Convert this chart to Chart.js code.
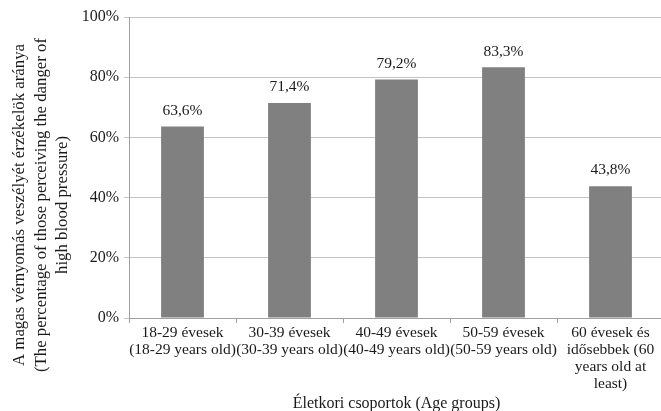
<!DOCTYPE html>
<html>
<head>
<meta charset="utf-8">
<script src="https://cdn.jsdelivr.net/npm/chart.js@4.4.0/dist/chart.umd.min.js"></script>
<style>
  html, body { margin: 0; padding: 0; background: #fff; overflow: hidden; }
  #wrap { width: 666px; height: 411px; }
</style>
</head>
<body>
<div id="wrap"><canvas id="ageChart"></canvas></div>
<script>
// age groups (two-language labels, one line per array entry)
const ageGroups = [
    ["18-29 évesek", "(18-29 years old)"],
    ["30-39 évesek", "(30-39 years old)"],
    ["40-49 évesek", "(40-49 years old)"],
    ["50-59 évesek", "(50-59 years old)"],
    ["60 évesek és", "idősebbek (60", "years old at", "least)"]
];
const percentages = [63.6, 71.4, 79.2, 83.3, 43.8];
const yTicks = [0, 20, 40, 60, 80, 100];

const yTitle = [
    "A magas vérnyomás veszélyét érzékelök aránya",
    "(The percentage of those perceiving the danger of",
    "high blood pressure)"
];
const xTitle = "Életkori csoportok (Age groups)";

const serif = "'Liberation Serif', 'Times New Roman', serif";
const textColor = '#1a1a1a';

// draws "63,6%" etc. above each bar
const valueLabels = {
    id: 'valueLabels',
    afterDatasetsDraw(chart) {
        const ctx = chart.ctx;
        const meta = chart.getDatasetMeta(0);
        ctx.save();
        ctx.font = '15.5px ' + serif;
        ctx.fillStyle = textColor;
        ctx.textAlign = 'center';
        ctx.textBaseline = 'bottom';
        meta.data.forEach((bar, i) => {
            const txt = percentages[i].toFixed(1).replace('.', ',') + '%';
            ctx.fillText(txt, bar.x, bar.y - 8);
        });
        ctx.restore();
    }
};

// y title sits a bit lower than the plot centre in the original, so draw it by hand
const yTitleDraw = {
    id: 'yTitleDraw',
    afterDraw(chart) {
        const ctx = chart.ctx;
        ctx.save();
        ctx.translate(20, 205);
        ctx.rotate(-Math.PI / 2);
        ctx.font = '16.8px ' + serif;
        ctx.fillStyle = textColor;
        ctx.textAlign = 'center';
        ctx.textBaseline = 'middle';
        yTitle.forEach((line, i) => ctx.fillText(line, 0, i * 21.2));
        ctx.restore();
    }
};

new Chart(document.getElementById('ageChart'), {
    type: 'bar',
    data: {
        labels: ageGroups,
        datasets: [{
            data: percentages,
            backgroundColor: '#808080',
            borderWidth: 0,
            categoryPercentage: 1,
            barPercentage: 0.4
        }]
    },
    options: {
        responsive: true,
        maintainAspectRatio: false,
        animation: false,
        layout: { padding: { top: 17, right: 2, bottom: 0, left: 0 } },
        plugins: {
            legend: { display: false },
            tooltip: { enabled: false }
        },
        scales: {
            x: {
                offset: true,
                grid: {
                    offset: true,
                    drawOnChartArea: false,
                    drawTicks: true,
                    tickLength: 5,
                    color: '#a0a0a0'
                },
                border: { display: true, color: '#a0a0a0' },
                ticks: {
                    autoSkip: false,
                    maxRotation: 0,
                    minRotation: 0,
                    padding: 2,
                    color: textColor,
                    font: { family: serif, size: 15.5, lineHeight: 1.08 }
                },
                title: {
                    display: true,
                    text: xTitle,
                    color: textColor,
                    font: { family: serif, size: 16, lineHeight: 1.1 },
                    padding: { top: 0, bottom: -2 }
                },
                afterFit(axis) { axis.height = 93; }
            },
            y: {
                min: 0,
                max: 100,
                afterBuildTicks(axis) { axis.ticks = yTicks.map(v => ({ value: v })); },
                grid: {
                    color: '#c4c4c4',
                    drawTicks: true,
                    tickLength: 5
                },
                border: { display: true, color: '#a0a0a0' },
                ticks: {
                    padding: 5,
                    color: textColor,
                    font: { family: serif, size: 16 },
                    callback: v => v + '%'
                },
                title: { display: false },
                afterFit(axis) { axis.width = 129; }
            }
        }
    },
    plugins: [valueLabels, yTitleDraw]
});
</script>
</body>
</html>
